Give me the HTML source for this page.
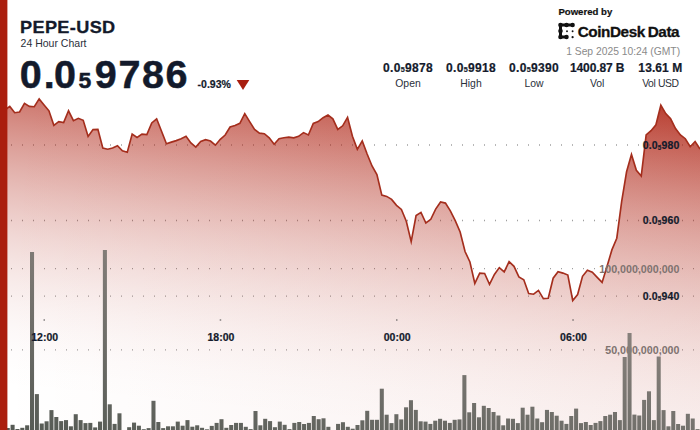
<!DOCTYPE html>
<html><head><meta charset="utf-8"><style>
html,body{margin:0;padding:0;background:#fff;}
body{width:700px;height:430px;position:relative;overflow:hidden;font-family:"Liberation Sans",sans-serif;color:#131a2b;}
svg{position:absolute;left:0;top:0;}
.t{position:absolute;white-space:nowrap;line-height:1;}
.b{font-weight:bold;-webkit-text-stroke:0.2px currentColor;}
.c{text-align:center;transform:translateX(-50%);}
.r{text-align:right;transform:translateX(-100%);}
sub{font-size:60%;vertical-align:baseline;position:relative;top:0.1em;}
</style></head><body>
<svg width="700" height="430" viewBox="0 0 700 430">
<defs><linearGradient id="g" x1="700" y1="99.0" x2="665.9" y2="458.3" gradientUnits="userSpaceOnUse"><stop offset="0.0000" stop-color="#ad1e0e" stop-opacity="0.8885"/><stop offset="0.0625" stop-color="#ad1e0e" stop-opacity="0.7809"/><stop offset="0.1250" stop-color="#ad1e0e" stop-opacity="0.6803"/><stop offset="0.1875" stop-color="#ad1e0e" stop-opacity="0.5865"/><stop offset="0.2500" stop-color="#ad1e0e" stop-opacity="0.4998"/><stop offset="0.3125" stop-color="#ad1e0e" stop-opacity="0.4200"/><stop offset="0.3750" stop-color="#ad1e0e" stop-opacity="0.3471"/><stop offset="0.4375" stop-color="#ad1e0e" stop-opacity="0.2811"/><stop offset="0.5000" stop-color="#ad1e0e" stop-opacity="0.2221"/><stop offset="0.5625" stop-color="#ad1e0e" stop-opacity="0.1701"/><stop offset="0.6250" stop-color="#ad1e0e" stop-opacity="0.1249"/><stop offset="0.6875" stop-color="#ad1e0e" stop-opacity="0.0868"/><stop offset="0.7500" stop-color="#ad1e0e" stop-opacity="0.0555"/><stop offset="0.8125" stop-color="#ad1e0e" stop-opacity="0.0312"/><stop offset="0.8750" stop-color="#ad1e0e" stop-opacity="0.0139"/><stop offset="0.9375" stop-color="#ad1e0e" stop-opacity="0.0035"/><stop offset="1.0000" stop-color="#ad1e0e" stop-opacity="0.0000"/></linearGradient><linearGradient id="g2" x1="0" y1="0" x2="700" y2="0" gradientUnits="userSpaceOnUse"><stop offset="0" stop-color="#ad1e0e" stop-opacity="0"/><stop offset="1" stop-color="#ad1e0e" stop-opacity="0.075"/></linearGradient><linearGradient id="bg" x1="700" y1="340" x2="655.8" y2="561.2" gradientUnits="userSpaceOnUse"><stop offset="0" stop-color="#89827d"/><stop offset="0.5" stop-color="#6f6e69"/><stop offset="1" stop-color="#555a54"/></linearGradient></defs>
<g stroke="#3a3a3a" stroke-width="1.3" stroke-dasharray="0.8 10.2" stroke-dashoffset="-0.1" opacity="0.6"><line x1="0" y1="145.0" x2="700" y2="145.0"/><line x1="0" y1="220.5" x2="700" y2="220.5"/><line x1="0" y1="296.2" x2="700" y2="296.2"/><line x1="0" y1="268.6" x2="700" y2="268.6"/><line x1="0" y1="349.8" x2="700" y2="349.8"/></g>
<path d="M0.0,112 L4.9,110 L9.79,106.4 L14.69,112.7 L19.58,112 L24.48,103.4 L29.37,106.4 L34.27,106.7 L39.16,98.9 L44.06,104.9 L48.95,110.8 L53.85,125.3 L58.74,121.6 L63.64,122.6 L68.53,110.8 L73.43,120.7 L78.32,118.3 L83.22,120.3 L88.11,136.5 L93.01,129.6 L97.9,129.4 L102.8,148 L107.69,149.2 L112.59,148 L117.48,145.7 L122.38,150.8 L127.27,152.3 L132.17,134.1 L137.06,137.4 L141.96,134.1 L146.85,134.6 L151.75,122.9 L156.64,118.8 L161.54,131.3 L166.43,143.7 L171.33,142.1 L176.22,140.6 L181.12,138.7 L186.01,136.3 L190.91,143 L195.8,147.1 L200.7,141.5 L205.59,139.7 L210.49,141 L215.38,145.2 L220.28,139.3 L225.17,135 L230.07,127 L234.97,125.5 L239.86,123.3 L244.76,113.6 L249.65,121.6 L254.55,129.4 L259.44,133.1 L264.34,133.7 L269.23,137.8 L274.13,144.3 L279.02,138.7 L283.92,137.8 L288.81,137.2 L293.71,137.8 L298.6,136.3 L303.5,132.6 L308.39,135 L313.29,123.5 L318.18,121.6 L323.08,117.7 L327.97,115.1 L332.87,118.8 L337.76,129.4 L342.66,125.8 L347.55,117.3 L352.45,136.3 L357.34,149.3 L362.24,140.9 L367.13,154 L372.03,166 L376.92,174.5 L381.82,195.1 L386.71,196.4 L391.61,199.4 L396.5,205.3 L401.4,209.4 L406.29,221.2 L411.19,241.6 L416.08,215.6 L420.98,212.4 L425.87,223 L430.77,219.3 L435.66,209.1 L440.56,202 L445.45,203.1 L450.35,210.9 L455.24,220.6 L460.14,232 L465.03,251.5 L469.93,262 L474.83,283.4 L479.72,273.1 L484.62,273.5 L489.51,284.3 L494.41,274.4 L499.3,267.6 L504.2,271.8 L509.09,261.6 L513.99,266.3 L518.88,276.9 L523.78,279.7 L528.67,293.6 L533.57,294.2 L538.46,290.4 L543.36,298.6 L548.25,298.3 L553.15,278.2 L558.04,271.7 L562.94,273.1 L567.83,275 L572.73,300.5 L577.62,294.5 L582.52,276.3 L587.41,270.3 L592.31,272.2 L597.2,277.4 L602.1,282.4 L606.99,266.6 L611.89,249.9 L616.78,238.2 L621.68,201.3 L626.57,171.8 L631.47,154.5 L636.36,170.3 L641.26,176 L646.15,135 L651.05,130.7 L655.94,124.8 L660.84,105.2 L665.73,113.6 L670.63,118.8 L675.52,128.5 L680.42,135 L685.31,138.7 L690.21,146.7 L695.1,141.5 L700.0,149 L700,430 L0,430 Z" fill="url(#g)"/><path d="M0.0,112 L4.9,110 L9.79,106.4 L14.69,112.7 L19.58,112 L24.48,103.4 L29.37,106.4 L34.27,106.7 L39.16,98.9 L44.06,104.9 L48.95,110.8 L53.85,125.3 L58.74,121.6 L63.64,122.6 L68.53,110.8 L73.43,120.7 L78.32,118.3 L83.22,120.3 L88.11,136.5 L93.01,129.6 L97.9,129.4 L102.8,148 L107.69,149.2 L112.59,148 L117.48,145.7 L122.38,150.8 L127.27,152.3 L132.17,134.1 L137.06,137.4 L141.96,134.1 L146.85,134.6 L151.75,122.9 L156.64,118.8 L161.54,131.3 L166.43,143.7 L171.33,142.1 L176.22,140.6 L181.12,138.7 L186.01,136.3 L190.91,143 L195.8,147.1 L200.7,141.5 L205.59,139.7 L210.49,141 L215.38,145.2 L220.28,139.3 L225.17,135 L230.07,127 L234.97,125.5 L239.86,123.3 L244.76,113.6 L249.65,121.6 L254.55,129.4 L259.44,133.1 L264.34,133.7 L269.23,137.8 L274.13,144.3 L279.02,138.7 L283.92,137.8 L288.81,137.2 L293.71,137.8 L298.6,136.3 L303.5,132.6 L308.39,135 L313.29,123.5 L318.18,121.6 L323.08,117.7 L327.97,115.1 L332.87,118.8 L337.76,129.4 L342.66,125.8 L347.55,117.3 L352.45,136.3 L357.34,149.3 L362.24,140.9 L367.13,154 L372.03,166 L376.92,174.5 L381.82,195.1 L386.71,196.4 L391.61,199.4 L396.5,205.3 L401.4,209.4 L406.29,221.2 L411.19,241.6 L416.08,215.6 L420.98,212.4 L425.87,223 L430.77,219.3 L435.66,209.1 L440.56,202 L445.45,203.1 L450.35,210.9 L455.24,220.6 L460.14,232 L465.03,251.5 L469.93,262 L474.83,283.4 L479.72,273.1 L484.62,273.5 L489.51,284.3 L494.41,274.4 L499.3,267.6 L504.2,271.8 L509.09,261.6 L513.99,266.3 L518.88,276.9 L523.78,279.7 L528.67,293.6 L533.57,294.2 L538.46,290.4 L543.36,298.6 L548.25,298.3 L553.15,278.2 L558.04,271.7 L562.94,273.1 L567.83,275 L572.73,300.5 L577.62,294.5 L582.52,276.3 L587.41,270.3 L592.31,272.2 L597.2,277.4 L602.1,282.4 L606.99,266.6 L611.89,249.9 L616.78,238.2 L621.68,201.3 L626.57,171.8 L631.47,154.5 L636.36,170.3 L641.26,176 L646.15,135 L651.05,130.7 L655.94,124.8 L660.84,105.2 L665.73,113.6 L670.63,118.8 L675.52,128.5 L680.42,135 L685.31,138.7 L690.21,146.7 L695.1,141.5 L700.0,149 L700,430 L0,430 Z" fill="url(#g2)"/>
<path d="M0.0,112 L4.9,110 L9.79,106.4 L14.69,112.7 L19.58,112 L24.48,103.4 L29.37,106.4 L34.27,106.7 L39.16,98.9 L44.06,104.9 L48.95,110.8 L53.85,125.3 L58.74,121.6 L63.64,122.6 L68.53,110.8 L73.43,120.7 L78.32,118.3 L83.22,120.3 L88.11,136.5 L93.01,129.6 L97.9,129.4 L102.8,148 L107.69,149.2 L112.59,148 L117.48,145.7 L122.38,150.8 L127.27,152.3 L132.17,134.1 L137.06,137.4 L141.96,134.1 L146.85,134.6 L151.75,122.9 L156.64,118.8 L161.54,131.3 L166.43,143.7 L171.33,142.1 L176.22,140.6 L181.12,138.7 L186.01,136.3 L190.91,143 L195.8,147.1 L200.7,141.5 L205.59,139.7 L210.49,141 L215.38,145.2 L220.28,139.3 L225.17,135 L230.07,127 L234.97,125.5 L239.86,123.3 L244.76,113.6 L249.65,121.6 L254.55,129.4 L259.44,133.1 L264.34,133.7 L269.23,137.8 L274.13,144.3 L279.02,138.7 L283.92,137.8 L288.81,137.2 L293.71,137.8 L298.6,136.3 L303.5,132.6 L308.39,135 L313.29,123.5 L318.18,121.6 L323.08,117.7 L327.97,115.1 L332.87,118.8 L337.76,129.4 L342.66,125.8 L347.55,117.3 L352.45,136.3 L357.34,149.3 L362.24,140.9 L367.13,154 L372.03,166 L376.92,174.5 L381.82,195.1 L386.71,196.4 L391.61,199.4 L396.5,205.3 L401.4,209.4 L406.29,221.2 L411.19,241.6 L416.08,215.6 L420.98,212.4 L425.87,223 L430.77,219.3 L435.66,209.1 L440.56,202 L445.45,203.1 L450.35,210.9 L455.24,220.6 L460.14,232 L465.03,251.5 L469.93,262 L474.83,283.4 L479.72,273.1 L484.62,273.5 L489.51,284.3 L494.41,274.4 L499.3,267.6 L504.2,271.8 L509.09,261.6 L513.99,266.3 L518.88,276.9 L523.78,279.7 L528.67,293.6 L533.57,294.2 L538.46,290.4 L543.36,298.6 L548.25,298.3 L553.15,278.2 L558.04,271.7 L562.94,273.1 L567.83,275 L572.73,300.5 L577.62,294.5 L582.52,276.3 L587.41,270.3 L592.31,272.2 L597.2,277.4 L602.1,282.4 L606.99,266.6 L611.89,249.9 L616.78,238.2 L621.68,201.3 L626.57,171.8 L631.47,154.5 L636.36,170.3 L641.26,176 L646.15,135 L651.05,130.7 L655.94,124.8 L660.84,105.2 L665.73,113.6 L670.63,118.8 L675.52,128.5 L680.42,135 L685.31,138.7 L690.21,146.7 L695.1,141.5 L700.0,149" fill="none" stroke="#a42e1d" stroke-width="1.65" stroke-linejoin="miter" stroke-miterlimit="10"/>
<g font-family="Liberation Sans, sans-serif" font-weight="bold" font-size="10.5" text-anchor="end">
<text x="679.5" y="272.7" fill="#7f7370" font-size="10.7">100,000,000,000</text>
<text x="679.5" y="354" fill="#7f7370" font-size="10.7">50,000,000,000</text>
</g>
<g fill="url(#bg)"><rect x="0.85" y="428.5" width="4.05" height="1.5"/><rect x="5.71" y="428.0" width="4.05" height="2.0"/><rect x="10.57" y="424.8" width="4.05" height="5.2"/><rect x="15.42" y="429.0" width="4.05" height="1.0"/><rect x="20.28" y="427.8" width="4.05" height="2.2"/><rect x="25.14" y="425.3" width="4.05" height="4.7"/><rect x="30.00" y="252.0" width="4.05" height="178.0"/><rect x="34.86" y="394.1" width="4.05" height="35.9"/><rect x="39.71" y="423.5" width="4.05" height="6.5"/><rect x="44.57" y="421.3" width="4.05" height="8.7"/><rect x="49.43" y="410.1" width="4.05" height="19.9"/><rect x="54.29" y="417.0" width="4.05" height="13.0"/><rect x="59.15" y="421.1" width="4.05" height="8.9"/><rect x="64.00" y="420.1" width="4.05" height="9.9"/><rect x="68.86" y="426.3" width="4.05" height="3.7"/><rect x="73.72" y="414.2" width="4.05" height="15.8"/><rect x="78.58" y="420.1" width="4.05" height="9.9"/><rect x="83.44" y="423.1" width="4.05" height="6.9"/><rect x="88.29" y="422.9" width="4.05" height="7.1"/><rect x="93.15" y="427.4" width="4.05" height="2.6"/><rect x="98.01" y="421.6" width="4.05" height="8.4"/><rect x="102.87" y="250.0" width="4.05" height="180.0"/><rect x="107.73" y="404.3" width="4.05" height="25.7"/><rect x="112.58" y="423.9" width="4.05" height="6.1"/><rect x="117.44" y="413.3" width="4.05" height="16.7"/><rect x="127.16" y="427.2" width="4.05" height="2.8"/><rect x="132.02" y="422.6" width="4.05" height="7.4"/><rect x="136.87" y="425.7" width="4.05" height="4.3"/><rect x="141.73" y="429.2" width="4.05" height="0.8"/><rect x="146.59" y="428.1" width="4.05" height="1.9"/><rect x="151.45" y="400.8" width="4.05" height="29.2"/><rect x="156.31" y="422.0" width="4.05" height="8.0"/><rect x="161.16" y="428.1" width="4.05" height="1.9"/><rect x="166.02" y="426.3" width="4.05" height="3.7"/><rect x="170.88" y="426.3" width="4.05" height="3.7"/><rect x="175.74" y="421.6" width="4.05" height="8.4"/><rect x="180.60" y="425.7" width="4.05" height="4.3"/><rect x="185.45" y="420.1" width="4.05" height="9.9"/><rect x="190.31" y="426.7" width="4.05" height="3.3"/><rect x="195.17" y="425.3" width="4.05" height="4.7"/><rect x="200.03" y="427.8" width="4.05" height="2.2"/><rect x="204.89" y="429.3" width="4.05" height="0.7"/><rect x="209.74" y="425.9" width="4.05" height="4.1"/><rect x="214.60" y="422.9" width="4.05" height="7.1"/><rect x="219.46" y="419.2" width="4.05" height="10.8"/><rect x="224.32" y="427.8" width="4.05" height="2.2"/><rect x="229.18" y="425.0" width="4.05" height="5.0"/><rect x="234.03" y="422.9" width="4.05" height="7.1"/><rect x="238.89" y="422.9" width="4.05" height="7.1"/><rect x="243.75" y="426.8" width="4.05" height="3.2"/><rect x="248.61" y="429.1" width="4.05" height="0.9"/><rect x="253.47" y="411.0" width="4.05" height="19.0"/><rect x="258.32" y="425.3" width="4.05" height="4.7"/><rect x="263.18" y="418.8" width="4.05" height="11.2"/><rect x="268.04" y="421.1" width="4.05" height="8.9"/><rect x="272.90" y="427.2" width="4.05" height="2.8"/><rect x="277.76" y="421.6" width="4.05" height="8.4"/><rect x="282.61" y="424.8" width="4.05" height="5.2"/><rect x="287.47" y="429.1" width="4.05" height="0.9"/><rect x="292.33" y="422.9" width="4.05" height="7.1"/><rect x="297.19" y="422.0" width="4.05" height="8.0"/><rect x="302.05" y="424.0" width="4.05" height="6.0"/><rect x="306.90" y="422.9" width="4.05" height="7.1"/><rect x="311.76" y="416.0" width="4.05" height="14.0"/><rect x="316.62" y="419.2" width="4.05" height="10.8"/><rect x="321.48" y="418.3" width="4.05" height="11.7"/><rect x="326.34" y="426.8" width="4.05" height="3.2"/><rect x="336.05" y="423.9" width="4.05" height="6.1"/><rect x="340.91" y="422.2" width="4.05" height="7.8"/><rect x="345.77" y="426.8" width="4.05" height="3.2"/><rect x="350.63" y="428.7" width="4.05" height="1.3"/><rect x="355.48" y="425.0" width="4.05" height="5.0"/><rect x="360.34" y="420.3" width="4.05" height="9.7"/><rect x="365.20" y="410.8" width="4.05" height="19.2"/><rect x="370.06" y="419.8" width="4.05" height="10.2"/><rect x="374.92" y="419.8" width="4.05" height="10.2"/><rect x="379.77" y="388.7" width="4.05" height="41.3"/><rect x="384.63" y="414.7" width="4.05" height="15.3"/><rect x="389.49" y="423.1" width="4.05" height="6.9"/><rect x="394.35" y="414.2" width="4.05" height="15.8"/><rect x="399.21" y="419.4" width="4.05" height="10.6"/><rect x="404.06" y="407.3" width="4.05" height="22.7"/><rect x="408.92" y="400.2" width="4.05" height="29.8"/><rect x="413.78" y="409.9" width="4.05" height="20.1"/><rect x="418.64" y="421.3" width="4.05" height="8.7"/><rect x="423.50" y="421.6" width="4.05" height="8.4"/><rect x="428.35" y="423.9" width="4.05" height="6.1"/><rect x="433.21" y="420.7" width="4.05" height="9.3"/><rect x="438.07" y="418.8" width="4.05" height="11.2"/><rect x="442.93" y="420.7" width="4.05" height="9.3"/><rect x="447.79" y="422.9" width="4.05" height="7.1"/><rect x="452.64" y="419.8" width="4.05" height="10.2"/><rect x="457.50" y="419.4" width="4.05" height="10.6"/><rect x="462.36" y="375.1" width="4.05" height="54.9"/><rect x="467.22" y="412.3" width="4.05" height="17.7"/><rect x="472.08" y="403.0" width="4.05" height="27.0"/><rect x="476.93" y="417.3" width="4.05" height="12.7"/><rect x="481.79" y="405.8" width="4.05" height="24.2"/><rect x="486.65" y="408.0" width="4.05" height="22.0"/><rect x="491.51" y="412.0" width="4.05" height="18.0"/><rect x="496.37" y="415.5" width="4.05" height="14.5"/><rect x="501.22" y="425.3" width="4.05" height="4.7"/><rect x="506.08" y="418.5" width="4.05" height="11.5"/><rect x="510.94" y="418.8" width="4.05" height="11.2"/><rect x="515.80" y="423.1" width="4.05" height="6.9"/><rect x="520.66" y="407.7" width="4.05" height="22.3"/><rect x="525.51" y="414.7" width="4.05" height="15.3"/><rect x="530.37" y="406.7" width="4.05" height="23.3"/><rect x="535.23" y="418.5" width="4.05" height="11.5"/><rect x="540.09" y="422.2" width="4.05" height="7.8"/><rect x="544.95" y="409.9" width="4.05" height="20.1"/><rect x="549.80" y="412.0" width="4.05" height="18.0"/><rect x="554.66" y="415.7" width="4.05" height="14.3"/><rect x="559.52" y="420.7" width="4.05" height="9.3"/><rect x="564.38" y="423.9" width="4.05" height="6.1"/><rect x="569.24" y="416.0" width="4.05" height="14.0"/><rect x="574.09" y="408.6" width="4.05" height="21.4"/><rect x="578.95" y="423.1" width="4.05" height="6.9"/><rect x="583.81" y="422.0" width="4.05" height="8.0"/><rect x="588.67" y="425.0" width="4.05" height="5.0"/><rect x="593.53" y="422.9" width="4.05" height="7.1"/><rect x="598.38" y="421.1" width="4.05" height="8.9"/><rect x="603.24" y="416.0" width="4.05" height="14.0"/><rect x="608.10" y="414.7" width="4.05" height="15.3"/><rect x="612.96" y="412.0" width="4.05" height="18.0"/><rect x="617.82" y="420.1" width="4.05" height="9.9"/><rect x="622.67" y="357.0" width="4.05" height="73.0"/><rect x="627.53" y="333.0" width="4.05" height="97.0"/><rect x="632.39" y="414.6" width="4.05" height="15.4"/><rect x="637.25" y="415.5" width="4.05" height="14.5"/><rect x="642.11" y="399.9" width="4.05" height="30.1"/><rect x="646.96" y="391.3" width="4.05" height="38.7"/><rect x="651.82" y="420.1" width="4.05" height="9.9"/><rect x="656.68" y="356.5" width="4.05" height="73.5"/><rect x="661.54" y="410.1" width="4.05" height="19.9"/><rect x="666.40" y="426.3" width="4.05" height="3.7"/><rect x="671.25" y="411.0" width="4.05" height="19.0"/><rect x="676.11" y="424.0" width="4.05" height="6.0"/><rect x="680.97" y="425.7" width="4.05" height="4.3"/><rect x="685.83" y="413.8" width="4.05" height="16.2"/><rect x="690.69" y="418.5" width="4.05" height="11.5"/><rect x="695.54" y="429.1" width="4.05" height="0.9"/></g>
<rect x="0" y="0" width="7.4" height="430" fill="#aa1e0e"/>
<rect x="43.5" y="319.5" width="1.5" height="1" fill="#444"/>
<rect x="219.7" y="319.5" width="1.5" height="1" fill="#444"/>
<rect x="396" y="319.5" width="1.5" height="1" fill="#444"/>
<rect x="572.3" y="319.5" width="1.5" height="1" fill="#444"/>
<polygon points="236.7,80.1 249.3,80.1 243,89.9" fill="#a81e0f"/>
<g fill="none" stroke="#111" stroke-linecap="round" stroke-linejoin="round">
<path d="M572.6,25 L560.5,25 L560.5,37 L566.5,37" stroke-width="3"/>
</g>
<g fill="#111"><circle cx="560.5" cy="25" r="2.3"/><circle cx="566.5" cy="25" r="2.25"/><circle cx="572.6" cy="25" r="2.25"/><circle cx="560.5" cy="31" r="2.3"/><circle cx="560.5" cy="37" r="2.3"/><circle cx="566.5" cy="37" r="2.25"/>
<circle cx="567" cy="31.2" r="0.95"/><circle cx="572.6" cy="31.2" r="0.95"/><circle cx="572.6" cy="37.2" r="1.1"/></g>
</svg>
<div class="t b" id="title" style="left:20.4px;top:19.3px;font-size:17px;letter-spacing:0.35px;-webkit-text-stroke:0.3px #131a2b;transform:scaleX(1.065);transform-origin:0 0;">PEPE-USD</div>
<div class="t" id="sub" style="left:20.6px;top:38px;font-size:10.5px;color:#2a2f3a;">24 Hour Chart</div>
<div class="t b" id="price" style="left:19.8px;top:54.9px;font-size:39.5px;letter-spacing:1.9px;-webkit-text-stroke:0.5px #131a2b;">0<span style="margin-right:-2.6px">.</span>0<sub style="font-size:58%;top:0.01em;margin-left:0.6px;margin-right:1.8px;">5</sub><span style="letter-spacing:1.55px">9786</span></div>
<div class="t b" id="chg" style="left:197.6px;top:79.1px;font-size:10.5px;">-0.93%</div>
<div class="t b" id="pow" style="left:558.4px;top:6.6px;font-size:9.6px;letter-spacing:0px;color:#111;">Powered by</div>
<div class="t b" id="cdd" style="left:577.7px;top:23.5px;font-size:15.3px;letter-spacing:-0.42px;color:#111;-webkit-text-stroke:0.3px #111;word-spacing:-1px;">CoinDesk Data</div>
<div class="t r" id="date" style="left:680.1px;top:47.1px;font-size:10.3px;color:#8a8a8a;">1 Sep 2025 10:24 (GMT)</div>
<div class="t b c" id="v0" style="left:408px;top:61.5px;font-size:12px;letter-spacing:0.3px;">0.0<sub>5</sub>9878</div>
<div class="t c" id="l0" style="left:408px;top:78.7px;font-size:10.4px;letter-spacing:0px;color:#2a2f3a;">Open</div>
<div class="t b c" id="v1" style="left:471px;top:61.5px;font-size:12px;letter-spacing:0.3px;">0.0<sub>5</sub>9918</div>
<div class="t c" id="l1" style="left:471px;top:78.7px;font-size:10.4px;letter-spacing:0px;color:#2a2f3a;">High</div>
<div class="t b c" id="v2" style="left:534px;top:61.5px;font-size:12px;letter-spacing:0.3px;">0.0<sub>5</sub>9390</div>
<div class="t c" id="l2" style="left:534px;top:78.7px;font-size:10.4px;letter-spacing:0px;color:#2a2f3a;">Low</div>
<div class="t b c" id="v3" style="left:597.2px;top:61.5px;font-size:12px;letter-spacing:-0.1px;">1400.87 B</div>
<div class="t c" id="l3" style="left:597.2px;top:78.7px;font-size:10.4px;letter-spacing:0px;color:#2a2f3a;">Vol</div>
<div class="t b c" id="v4" style="left:660.4px;top:61.5px;font-size:12px;letter-spacing:0.1px;">13.61 M</div>
<div class="t c" id="l4" style="left:660.4px;top:78.7px;font-size:10.4px;letter-spacing:-0.4px;color:#2a2f3a;">Vol USD</div>
<div class="t b c" id="x0" style="left:44.7px;top:332px;font-size:10.5px;">12:00</div>
<div class="t b c" id="x1" style="left:220.9px;top:332px;font-size:10.5px;">18:00</div>
<div class="t b c" id="x2" style="left:397.2px;top:332px;font-size:10.5px;">00:00</div>
<div class="t b c" id="x3" style="left:573.5px;top:332px;font-size:10.5px;">06:00</div>
<div class="t b r" id="y0" style="left:679.5px;top:140.1px;font-size:10.5px;letter-spacing:0.15px;">0.0<sub>5</sub>980</div>
<div class="t b r" id="y1" style="left:679.5px;top:215.3px;font-size:10.5px;letter-spacing:0.15px;">0.0<sub>5</sub>960</div>
<div class="t b r" id="y2" style="left:679.5px;top:291.29999999999995px;font-size:10.5px;letter-spacing:0.15px;">0.0<sub>5</sub>940</div>
</body></html>
